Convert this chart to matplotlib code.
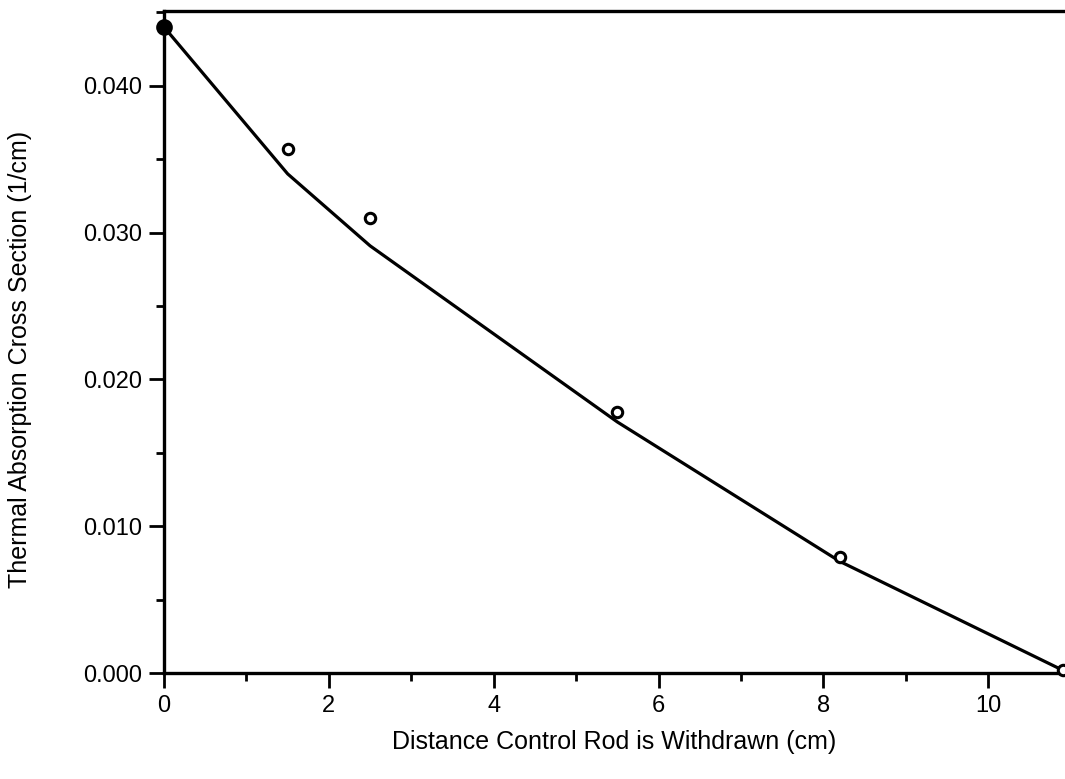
import matplotlib
matplotlib.use("Agg")
import matplotlib.pyplot as plt
from matplotlib.ticker import MultipleLocator, FormatStrFormatter

# Measured cross sections vs. rod withdrawal distance
distance_cm = [0.0, 1.5, 2.5, 5.5, 8.2, 10.9]
measured = [0.0440, 0.0357, 0.0310, 0.0178, 0.0079, 0.0002]

# Fitted curve evaluated at the same distances
fit_distance_cm = [0.0, 1.5, 2.5, 5.5, 8.2, 10.9]
fit_values = [0.0440, 0.0340, 0.0291, 0.0171, 0.0076, 0.0002]

x_ticks = [0, 2, 4, 6, 8, 10]
y_ticks = [0.000, 0.010, 0.020, 0.030, 0.040]

plt.rcParams["font.family"] = ["Liberation Sans", "DejaVu Sans"]

fig = plt.figure(figsize=(10.65, 7.79), dpi=100)
ax = fig.add_axes([0.154, 0.136, 0.846, 0.850])

ax.plot(fit_distance_cm, fit_values, color="black", lw=2.3, zorder=2)

# first point solid, the rest hollow
ax.plot(distance_cm[:1], measured[:1], "o", ms=10, mfc="black", mec="black",
        mew=2.0, clip_on=False, zorder=3)
ax.plot(distance_cm[1:], measured[1:], "o", ms=7.5, mfc="white", mec="black",
        mew=2.2, clip_on=False, zorder=3)

ax.set_xlim(0, 10.93)
ax.set_ylim(0, 0.0451)

ax.set_xticks(x_ticks)
ax.set_yticks(y_ticks)
ax.xaxis.set_minor_locator(MultipleLocator(1))
ax.yaxis.set_minor_locator(MultipleLocator(0.005))
ax.yaxis.set_major_formatter(FormatStrFormatter("%.3f"))

ax.tick_params(which="major", direction="out", length=11, width=2,
               labelsize=17, pad=5)
ax.tick_params(which="minor", direction="out", length=6, width=2)

for side in ("left", "bottom", "top"):
    ax.spines[side].set_linewidth(2.4)
ax.spines["right"].set_visible(False)

ax.set_xlabel("Distance Control Rod is Withdrawn (cm)", fontsize=18)
ax.set_ylabel("Thermal Absorption Cross Section (1/cm)", fontsize=18)
ax.xaxis.set_label_coords(0.5, -0.086)
ax.yaxis.set_label_coords(-0.147, 0.473)

fig.savefig("out.png", dpi=100, facecolor="white")
